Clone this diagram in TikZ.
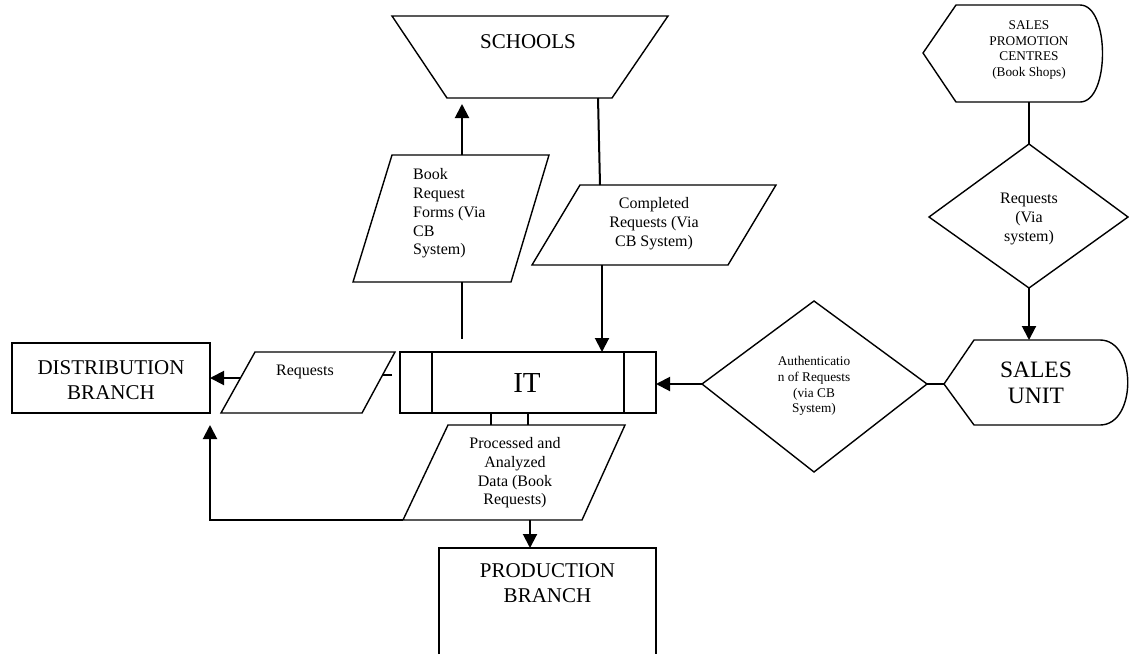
\documentclass[tikz,border=0pt]{standalone}
\usepackage{fontspec}
\setmainfont{Liberation Serif}
\usetikzlibrary{arrows.meta}
\begin{document}
\begin{tikzpicture}[x=1pt,y=-1pt,
  shp/.style={line width=1.4pt, line join=miter},
  conn/.style={line width=2pt},
  arr/.style={conn,-{Triangle[length=14pt,width=14pt]}},
  big/.style={inner sep=0pt, align=center, font=\fontsize{21}{25}\selectfont},
  huge/.style={inner sep=0pt, align=center, font=\fontsize{29}{32}\selectfont},
  sunit/.style={inner sep=0pt, align=center, font=\fontsize{23.5}{26}\selectfont},
  med/.style={inner sep=0pt, align=center, font=\fontsize{16}{18.7}\selectfont},
  sml/.style={inner sep=0pt, align=center, font=\fontsize{13.3}{15.7}\selectfont},
]
\useasboundingbox (0,0) rectangle (1129,654);

% ---------- SCHOOLS (trapezoid)
\draw[shp] (392,16) -- (668,16) -- (612,98) -- (447,98) -- cycle;
\node[big] (schools) at (528,42) {SCHOOLS};
\coordinate (scA) at (598,98);
\coordinate (scB) at (462,98);

% ---------- Book Request Forms (parallelogram)
\draw[shp] (392,155) -- (549,155) -- (511,282) -- (353,282) -- cycle;
\node[med, align=left, anchor=west] (bookreq) at (413,213.5) {Book\\Request\\Forms (Via\\CB\\System)};
\coordinate (brT) at (462,155);
\coordinate (brB) at (462,282);

% ---------- Completed Requests (parallelogram)
\draw[shp] (580,185) -- (776,185) -- (728,265) -- (532,265) -- cycle;
\node[med] (completed) at (654,223.5) {Completed\\Requests (Via\\CB System)};
\coordinate (crT) at (600,185);
\coordinate (crB) at (602,265);

% ---------- SALES PROMOTION CENTRES (display shape)
\draw[shp] (923,53) -- (956,5) -- (1080,5) .. controls (1110,5) and (1110,102) .. (1080,102) -- (956,102) -- cycle;
\node[sml] (promo) at (1029,50) {SALES\\PROMOTION\\CENTRES\\(Book Shops)};
\coordinate (spB) at (1029,102);

% ---------- Requests (Via system) diamond
\draw[shp] (1029,144) -- (1128,217) -- (1029,288) -- (929,217) -- cycle;
\node[med] (reqdia) at (1029,219) {Requests\\(Via\\system)};
\coordinate (rdT) at (1029,144);
\coordinate (rdB) at (1029,288);

% ---------- SALES UNIT (display shape)
\draw[shp] (944,384) -- (974,340) -- (1100,340) .. controls (1137,340) and (1137,425) .. (1100,425) -- (974,425) -- cycle;
\node[sunit] (salesunit) at (1036,383) {SALES\\UNIT};
\coordinate (suT) at (1029,340);
\coordinate (suL) at (944,384);

% ---------- Authentication diamond
\draw[shp] (814,301) -- (927,384) -- (814,472) -- (702,384) -- cycle;
\node[sml] (auth) at (814,386) {Authenticatio\\n of Requests\\(via CB\\System)};
\coordinate (adL) at (702,384);
\coordinate (adR) at (927,384);

% ---------- IT (predefined process)
\draw[shp] (400,352) rectangle (656,413);
\draw[shp] (432,352) -- (432,413) (624,352) -- (624,413);
\node[huge] (it) at (527,383) {IT};
\coordinate (itR) at (656,384);
\coordinate (itL) at (400,375);
\coordinate (itT1) at (462,352);
\coordinate (itT2) at (602,352);
\coordinate (itB1) at (491,413);
\coordinate (itB2) at (528,413);

% ---------- Requests (parallelogram, left)
\draw[shp] (255,352) -- (395,352) -- (362,413) -- (221,413) -- cycle;
\node[med] (reqs) at (305,372) {Requests};
\coordinate (rqR) at (383,375);
\coordinate (rqL) at (240.5,378);

% ---------- DISTRIBUTION BRANCH
\draw[shp] (12,343) rectangle (210,413);
\node[big] (dist) at (111,380) {DISTRIBUTION\\BRANCH};
\coordinate (distR) at (210,378);
\coordinate (distB) at (210,413);

% ---------- Processed and Analyzed Data (parallelogram)
\draw[shp] (448,425) -- (625,425) -- (582,520) -- (403,520) -- cycle;
\node[med] (processed) at (515,473) {Processed and\\Analyzed\\Data (Book\\Requests)};
\coordinate (pdT1) at (491,425);
\coordinate (pdT2) at (528,425);
\coordinate (pdB) at (530,520);
\coordinate (pdBL) at (403,520);

% ---------- PRODUCTION BRANCH
\draw[shp] (439,654) -- (439,548) -- (656,548) -- (656,654);
\node[big] (prod) at (547.5,583) {PRODUCTION\\BRANCH};
\coordinate (prodT) at (530,548);

% ---------- connectors
\draw[conn] (scA) -- (crT);
\draw[arr] (crB) -- (itT2);
\draw[arr, shorten >=6pt] (brT) -- (scB);
\draw[conn, shorten >=13pt] (brB) -- (itT1);
\draw[conn, shorten <=8pt] (itL) -- (rqR);
\draw[arr] (rqL) -- (distR);
\draw[conn] (itB1) -- (pdT1);
\draw[conn] (itB2) -- (pdT2);
\draw[arr] (pdB) -- (prodT);
\draw[arr, shorten >=12pt] (pdBL) -| (distB);
\draw[conn] (spB) -- (rdT);
\draw[arr] (rdB) -- (suT);
\draw[conn] (adR) -- (suL);
\draw[arr] (adL) -- (itR);
\end{tikzpicture}
\end{document}
